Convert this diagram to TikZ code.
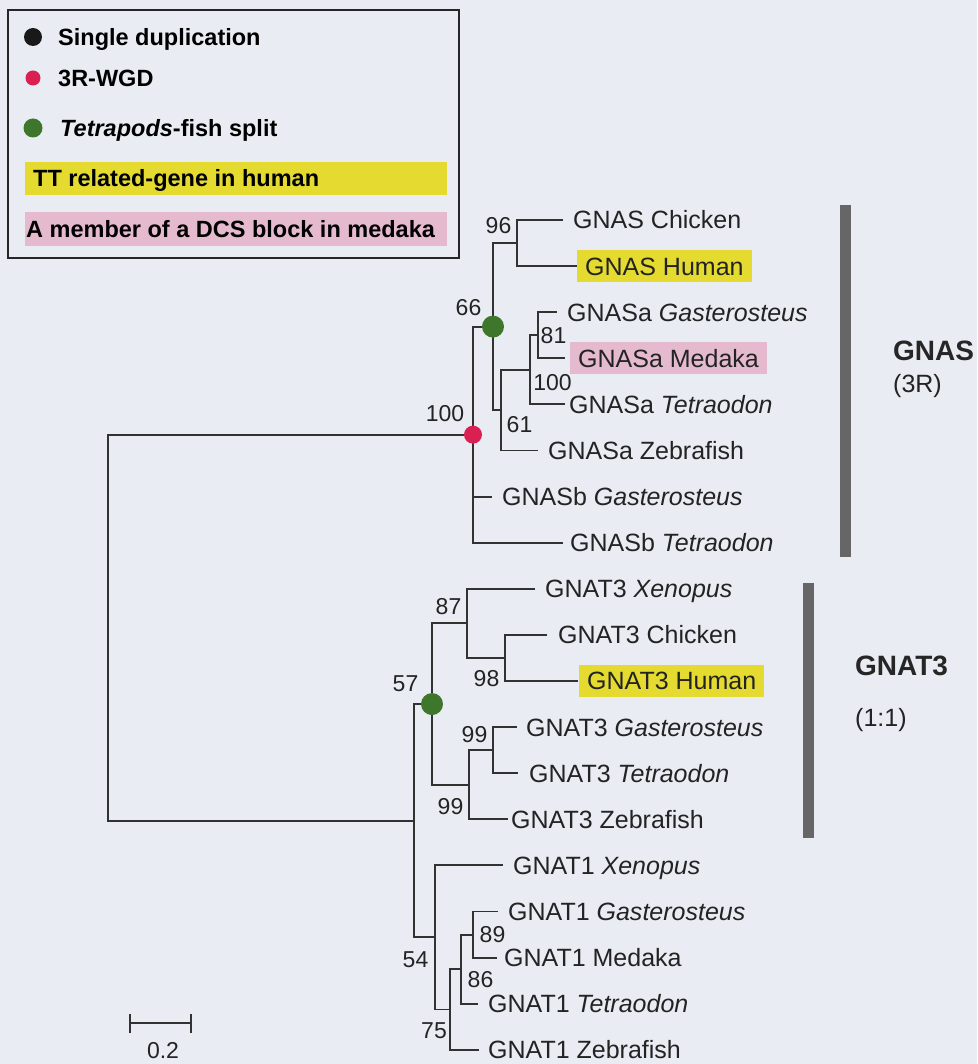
\documentclass[tikz,border=0pt]{standalone}
\usepackage{fontspec}
\setmainfont{Liberation Sans}
\definecolor{bgc}{RGB}{233,236,242}
\definecolor{linec}{RGB}{50,50,50}
\definecolor{textc}{RGB}{35,35,35}
\definecolor{yellowhl}{RGB}{229,219,48}
\definecolor{pinkhl}{RGB}{230,186,206}
\definecolor{reddot}{RGB}{218,32,82}
\definecolor{greendot}{RGB}{62,118,44}
\definecolor{barc}{RGB}{102,102,102}
\newcommand\labf{\fontsize{25}{30}\selectfont}
\newcommand\numf{\fontsize{23}{28}\selectfont}
\newcommand\legf{\fontsize{23.5}{28}\selectfont\bfseries}
\newcommand\grpf{\fontsize{28}{32}\selectfont\bfseries}
\newcommand\grpsf{\fontsize{25}{30}\selectfont}
\begin{document}
\begin{tikzpicture}[x=1pt,y=-1pt,
  br/.style={draw=linec, line width=1.9pt},
  lab/.style={anchor=west, inner sep=0pt, text height=17.9pt, text depth=0pt, font=\labf, text=textc},
  hl/.style={anchor=west, inner xsep=8pt, inner ysep=7pt, text height=17.9pt, text depth=0pt, font=\labf, text=textc},
  num/.style={inner sep=0pt, text height=16.5pt, text depth=0pt, font=\numf, text=textc},
  leg/.style={anchor=west, inner sep=0pt, text height=16.8pt, text depth=0pt, font=\legf, text=black},
  grp/.style={anchor=west, inner sep=0pt, text height=20pt, text depth=0pt, font=\grpf, text=black!85},
  grps/.style={anchor=west, inner sep=0pt, font=\grpsf, text=textc},
  dotr/.style={circle, fill=reddot, inner sep=0pt, minimum size=18pt},
  dotg/.style={circle, fill=greendot, inner sep=0pt, minimum size=22pt},
]
\fill[bgc] (0,0) rectangle (977,1064);
\useasboundingbox (0,0) rectangle (977,1064);

% ---------- legend ----------
\draw[black!85, line width=2pt] (8,10) rectangle (459,258);
\node[circle, fill=black!90, inner sep=0pt, minimum size=18pt] (lb) at (33,37) {};
\node[leg] (lbt) at (58,37) {Single duplication};
\node[circle, fill=reddot, inner sep=0pt, minimum size=15pt] (lr) at (33,78) {};
\node[leg] (lrt) at (58,78) {3R-WGD};
\node[circle, fill=greendot, inner sep=0pt, minimum size=19pt] (lg) at (33,128) {};
\node[leg] (lgt) at (60,128) {\itshape Tetrapods\upshape-fish split};
\fill[yellowhl] (25,162) rectangle (447,195);
\node[leg] (lyt) at (33,178.5) {TT related-gene in human};
\fill[pinkhl] (25,212) rectangle (447,246);
\node[leg] (lpt) at (26,229) {A member of a DCS block in medaka};

% ---------- internal nodes ----------
\coordinate (root) at (108,627.7);
\coordinate (nR)   at (473,434.65);
\coordinate (n66)  at (493,326.6);
\coordinate (n96)  at (517,243.05);
\coordinate (n61)  at (501,410.15);
\coordinate (n100) at (530,369.8);
\coordinate (n81)  at (538,335.25);
\coordinate (nG)   at (414,820.7);
\coordinate (ngr)  at (432,704.05);
\coordinate (n87)  at (467,623.4);
\coordinate (n98)  at (505,657.95);
\coordinate (n99b) at (469,784.7);
\coordinate (n99a) at (493,750.15);
\coordinate (n54)  at (435,937.4);
\coordinate (n75)  at (450,1009.45);
\coordinate (n86)  at (461,969.1);
\coordinate (n89)  at (473,934.55);

% ---------- leaves (tips) ----------
\coordinate (l0)  at (563,220);
\coordinate (l1)  at (577,266.1);
\coordinate (l2)  at (557,312.2);
\coordinate (l3)  at (565,358.3);
\coordinate (l4)  at (565,404.4);
\coordinate (l5)  at (538,450.5);
\coordinate (l6)  at (492,496.6);
\coordinate (l7)  at (563,542.7);
\coordinate (l8)  at (535,588.8);
\coordinate (l9)  at (547,634.9);
\coordinate (l10) at (578,681);
\coordinate (l11) at (517,727.1);
\coordinate (l12) at (518,773.2);
\coordinate (l13) at (508,819.3);
\coordinate (l14) at (503,865.4);
\coordinate (l15) at (498,911.5);
\coordinate (l16) at (497,957.6);
\coordinate (l17) at (478,1003.7);
\coordinate (l18) at (479,1049.8);

% ---------- branches ----------
\draw[br] (root) |- (nR);
\draw[br] (root) |- (nG);
\draw[br] (nR) |- (n66);
\draw[br] (nR) |- (l6);
\draw[br] (nR) |- (l7);
\draw[br] (n66) |- (n96);
\draw[br] (n66) |- (n61);
\draw[br] (n96) |- (l0);
\draw[br] (n96) |- (l1);
\draw[br] (n61) |- (n100);
\draw[br] (n61) |- (l5);
\draw[br] (n100) |- (n81);
\draw[br] (n100) |- (l4);
\draw[br] (n81) |- (l2);
\draw[br] (n81) |- (l3);
\draw[br] (nG) |- (ngr);
\draw[br] (nG) |- (n54);
\draw[br] (ngr) |- (n87);
\draw[br] (ngr) |- (n99b);
\draw[br] (n87) |- (l8);
\draw[br] (n87) |- (n98);
\draw[br] (n98) |- (l9);
\draw[br] (n98) |- (l10);
\draw[br] (n99b) |- (n99a);
\draw[br] (n99b) |- (l13);
\draw[br] (n99a) |- (l11);
\draw[br] (n99a) |- (l12);
\draw[br] (n54) |- (l14);
\draw[br] (n54) |- (n75);
\draw[br] (n75) |- (n86);
\draw[br] (n75) |- (l18);
\draw[br] (n86) |- (n89);
\draw[br] (n86) |- (l17);
\draw[br] (n89) |- (l15);
\draw[br] (n89) |- (l16);

% ---------- event dots ----------
\node[dotr] (dR) at (nR) {};
\node[dotg] (dG1) at (n66) {};
\node[dotg] (dG2) at (ngr) {};

% ---------- leaf labels ----------
\node[lab] (t0)  at (573,220)    {GNAS Chicken};
\node[hl, fill=yellowhl] (t1) at (577,266.1) {GNAS Human};
\node[lab] (t2)  at (567,312.2)  {GNASa \itshape Gasterosteus};
\node[hl, fill=pinkhl] (t3) at (570,358.3) {GNASa Medaka};
\node[lab] (t4)  at (569,404.4)  {GNASa \itshape Tetraodon};
\node[lab] (t5)  at (548,450.5)  {GNASa Zebrafish};
\node[lab] (t6)  at (502,496.6)  {GNASb \itshape Gasterosteus};
\node[lab] (t7)  at (570,542.7)  {GNASb \itshape Tetraodon};
\node[lab] (t8)  at (545,588.8)  {GNAT3 \itshape Xenopus};
\node[lab] (t9)  at (558,634.9)  {GNAT3 Chicken};
\node[hl, fill=yellowhl] (t10) at (579,681) {GNAT3 Human};
\node[lab] (t11) at (526,727.1)  {GNAT3 \itshape Gasterosteus};
\node[lab] (t12) at (529,773.2)  {GNAT3 \itshape Tetraodon};
\node[lab] (t13) at (511,819.3)  {GNAT3 Zebrafish};
\node[lab] (t14) at (513,865.4)  {GNAT1 \itshape Xenopus};
\node[lab] (t15) at (508,911.5)  {GNAT1 \itshape Gasterosteus};
\node[lab] (t16) at (504,957.6)  {GNAT1 Medaka};
\node[lab] (t17) at (488,1003.7) {GNAT1 \itshape Tetraodon};
\node[lab] (t18) at (488,1049.8) {GNAT1 Zebrafish};

% ---------- bootstrap values ----------
\node[num] (b96)  at (498.5,225)   {96};
\node[num] (b66)  at (468.5,307.5) {66};
\node[num] (b100r) at (445,413)    {100};
\node[num] (b81)  at (553.5,335)   {81};
\node[num] (b100) at (552.5,382.5) {100};
\node[num] (b61)  at (519.5,424)   {61};
\node[num] (b87)  at (448.5,606)   {87};
\node[num] (b98)  at (486.5,678)   {98};
\node[num] (b57)  at (405.5,683)   {57};
\node[num] (b99a) at (474.5,734)   {99};
\node[num] (b99b) at (450.5,806)   {99};
\node[num] (b89)  at (492.5,934)   {89};
\node[num] (b86)  at (480.5,979)   {86};
\node[num] (b54)  at (415.5,959)   {54};
\node[num] (b75)  at (434,1030)    {75};

% ---------- group bars ----------
\fill[barc] (840,205) rectangle (851,557);
\node[grp] (gnas) at (893,350) {GNAS};
\node[grps] (gnas3r) at (893,386) {(3R)};
\fill[barc] (803,583) rectangle (814,838);
\node[grp] (gnat) at (855,665) {GNAT3};
\node[grps] (gnat11) at (855,720) {(1:1)};

% ---------- scale bar ----------
\coordinate (sbA) at (130,1023);
\coordinate (sbB) at (191,1023);
\draw[linec, line width=2pt] (sbA) -- (sbB);
\draw[linec, line width=2pt] ([yshift=-10pt]sbA) -- ([yshift=9pt]sbA);
\draw[linec, line width=2pt] ([yshift=-10pt]sbB) -- ([yshift=9pt]sbB);
\node[num] (sbt) at (163,1050) {0.2};
\end{tikzpicture}
\end{document}
